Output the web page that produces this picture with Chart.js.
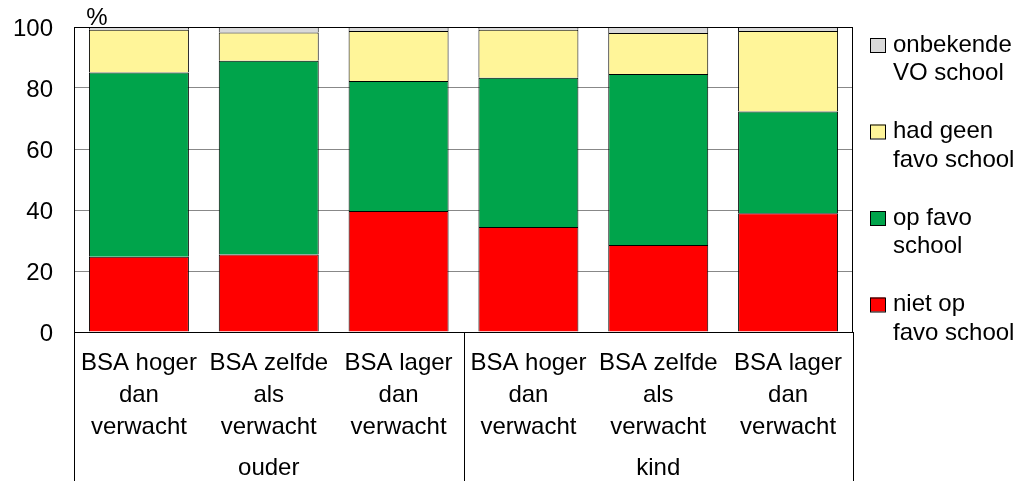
<!DOCTYPE html>
<html>
<head>
<meta charset="utf-8">
<script src="https://cdn.jsdelivr.net/npm/chart.js@4"></script>
<style>
  body { margin: 0; background: #fff; }
  #wrap { width: 1036px; height: 481px; position: relative; }
</style>
</head>
<body>
<div id="wrap"><canvas id="bsaChart"></canvas></div>
<script>
// categories and groups
const categories = [
    ['BSA hoger', 'dan', 'verwacht'],
    ['BSA zelfde', 'als', 'verwacht'],
    ['BSA lager', 'dan', 'verwacht'],
    ['BSA hoger', 'dan', 'verwacht'],
    ['BSA zelfde', 'als', 'verwacht'],
    ['BSA lager', 'dan', 'verwacht']
];
const groups = ['ouder', 'kind'];

// series values (%)
const nietOpFavo = [24.7, 25.4, 39.7, 34.4, 28.5, 38.9];
const opFavo = [60.4, 63.5, 42.6, 49.0, 56.1, 33.4];
const geenFavo = [14.0, 9.3, 16.4, 15.7, 13.4, 26.4];
const onbekend = [0.9, 1.8, 1.3, 0.9, 2.0, 1.3];

const seriesLabels = [['niet op', 'favo school'], ['op favo', 'school'], ['had geen', 'favo school'], ['onbekende', 'VO school']];
const seriesColors = ['#FF0000', '#00A44B', '#FFF599', '#D9D9D9'];

const yTicks = [0, 20, 40, 60, 80, 100];
const unitLabel = '%';

const FONT = 'Liberation Sans, Arial, Helvetica, sans-serif';

// legend, group separators, plot frame and unit label
const extrasPlugin = {
    id: 'extras',
    afterDraw(chart) {
        const ctx = chart.ctx;
        const area = chart.chartArea;
        const xs = chart.scales.x;
        ctx.save();
        ctx.strokeStyle = '#000';
        ctx.lineWidth = 1;
        ctx.strokeRect(Math.round(area.left) + 0.5, Math.round(area.top) + 0.5,
            Math.round(area.right - area.left) - 1, Math.round(area.bottom - area.top));

        const mid = (xs.getPixelForValue(2) + xs.getPixelForValue(3)) / 2;
        ctx.beginPath();
        [area.left, mid, area.right].forEach(function(x) {
            const px = Math.round(x) + 0.5;
            ctx.moveTo(px, area.bottom);
            ctx.lineTo(px, chart.height);
        });
        ctx.stroke();

        ctx.fillStyle = '#000';
        ctx.font = '24px ' + FONT;
        ctx.textAlign = 'center';
        ctx.textBaseline = 'middle';
        ctx.fillText(unitLabel, area.left + 23, 18);

        // legend, top item = last dataset
        ctx.textAlign = 'left';
        const n = chart.data.datasets.length;
        for (let i = 0; i < n; i++) {
            const ds = chart.data.datasets[n - 1 - i];
            const y = 45 + i * 86.5;
            ctx.fillStyle = ds.backgroundColor;
            ctx.fillRect(870, y - 7, 15, 14);
            ctx.strokeRect(870.5, y - 6.5, 15, 14);
            ctx.fillStyle = '#000';
            ds.label.forEach(function(line, j) {
                ctx.fillText(line, 893, y + j * 28.4);
            });
        }
        ctx.restore();
    }
};

document.addEventListener('DOMContentLoaded', function() {
    const ctx = document.getElementById('bsaChart');

    const datasets = [nietOpFavo, opFavo, geenFavo, onbekend].map(function(values, i) {
        return {
            label: seriesLabels[i],
            data: values,
            backgroundColor: seriesColors[i],
            borderColor: '#000',
            borderWidth: 1,
            barPercentage: 0.77,
            categoryPercentage: 1.0
        };
    });

    new Chart(ctx, {
        type: 'bar',
        data: {
            labels: categories,
            datasets: datasets
        },
        options: {
            responsive: true,
            maintainAspectRatio: false,
            animation: false,
            layout: {
                padding: { top: 27, right: 183, left: 0, bottom: 0 }
            },
            scales: {
                x: {
                    stacked: true,
                    grid: { display: false, drawTicks: false },
                    border: { color: '#000' },
                    ticks: {
                        color: '#000',
                        padding: 15,
                        maxRotation: 0,
                        autoSkip: false,
                        font: { family: FONT, size: 24, lineHeight: 32 / 24 }
                    },
                    afterFit: function(scale) {
                        scale.height = 120;
                        scale.paddingLeft = 0;
                        scale.paddingRight = 0;
                    }
                },
                x2: {
                    type: 'category',
                    position: 'bottom',
                    labels: groups,
                    offset: true,
                    grid: { display: false, drawTicks: false },
                    border: { display: false },
                    ticks: {
                        color: '#000',
                        padding: 2,
                        maxRotation: 0,
                        font: { family: FONT, size: 24, lineHeight: 1.2 }
                    },
                    afterFit: function(scale) {
                        scale.height = 29;
                        scale.paddingLeft = 0;
                        scale.paddingRight = 0;
                    }
                },
                y: {
                    stacked: true,
                    min: 0,
                    max: 100,
                    afterBuildTicks: function(scale) {
                        scale.ticks = yTicks.map(function(v) { return { value: v }; });
                    },
                    grid: { color: '#888', lineWidth: 1, drawTicks: false },
                    border: { color: '#000' },
                    ticks: {
                        color: '#000',
                        padding: 21,
                        labelOffset: 2,
                        font: { family: FONT, size: 24 }
                    },
                    afterFit: function(scale) {
                        scale.width = 74;
                        scale.paddingTop = 0;
                        scale.paddingBottom = 0;
                    }
                }
            },
            plugins: {
                legend: { display: false },
                tooltip: { enabled: false }
            }
        },
        plugins: [extrasPlugin]
    });
});
</script>
</body>
</html>
